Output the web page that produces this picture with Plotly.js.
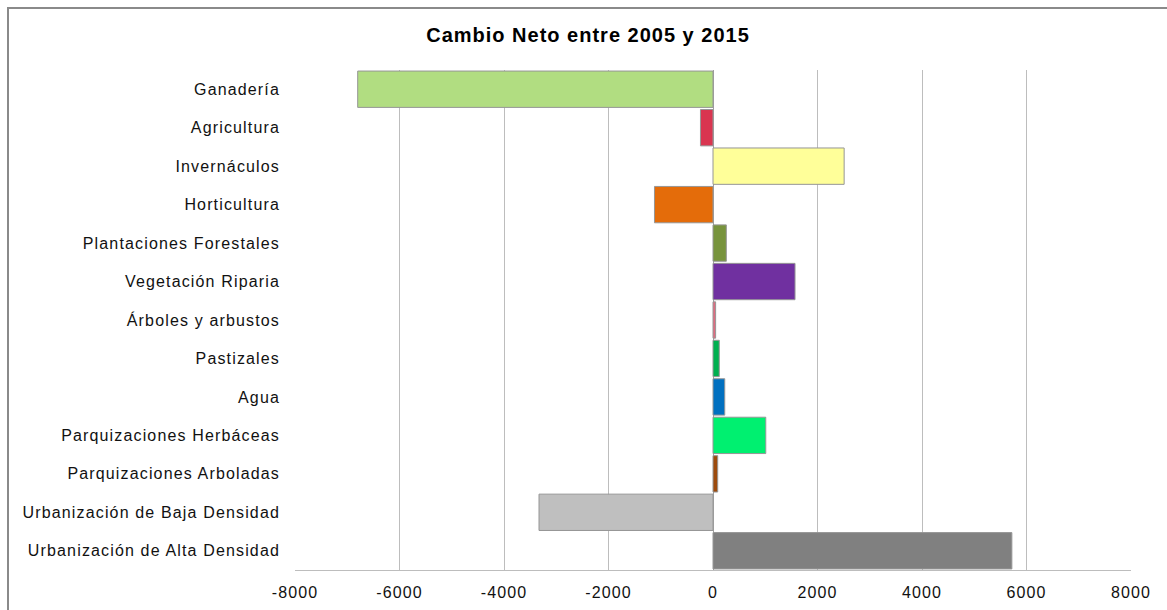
<!DOCTYPE html>
<html>
<head>
<meta charset="utf-8">
<script src="https://cdn.plot.ly/plotly-3.0.1.min.js"></script>
<style>
  html, body { margin: 0; padding: 0; background: #fff; overflow: hidden; }
  #frame { position: absolute; left: 7px; top: 7px; width: 1300px; height: 700px;
           border-left: 2px solid #8a8a8a; border-top: 2px solid #8a8a8a; }
  #chart { position: absolute; left: 0; top: 0; width: 1167px; height: 610px; }
  #chart .ytick text, #chart .xtick text { letter-spacing: 1.15px; }
  #chart .gtitle { letter-spacing: 1px; }
</style>
</head>
<body>
<div id="frame"></div>
<div id="chart"></div>
<script>
const categories = [
  "Ganadería",
  "Agricultura",
  "Invernáculos",
  "Horticultura",
  "Plantaciones Forestales",
  "Vegetación Riparia",
  "Árboles y arbustos",
  "Pastizales",
  "Agua",
  "Parquizaciones Herbáceas",
  "Parquizaciones Arboladas",
  "Urbanización de Baja Densidad",
  "Urbanización de Alta Densidad"
];
const values = [-6800, -240, 2510, -1120, 255, 1570, 50, 120, 225, 1010, 90, -3330, 5720];
const barColors = [
  "#b1dd81", "#d93550", "#ffff99", "#e46c0a", "#77933c", "#7030a0",
  "#e06c80", "#00b050", "#0070c0", "#00f070", "#9c4a0c", "#bfbfbf", "#808080"
];
const xTicks = [-8000, -6000, -4000, -2000, 0, 2000, 4000, 6000, 8000];
const chartTitle = "Cambio Neto entre 2005 y 2015";

const trace = {
  type: "bar",
  orientation: "h",
  y: categories,
  x: values,
  marker: { color: barColors, line: { color: "#969696", width: 1 } },
  hoverinfo: "x+y"
};

const layout = {
  width: 1167,
  height: 610,
  margin: { l: 295, r: 36, t: 70, b: 40 },
  paper_bgcolor: "rgba(0,0,0,0)",
  plot_bgcolor: "rgba(0,0,0,0)",
  showlegend: false,
  bargap: 0.055,
  title: {
    text: "<b>" + chartTitle + "</b>",
    x: 588 / 1167, xanchor: "center",
    y: 1 - 35 / 610, yanchor: "middle",
    font: { family: "Liberation Sans, Arial, sans-serif", size: 20, color: "#000" }
  },
  font: { family: "Liberation Sans, Arial, sans-serif", color: "#111" },
  xaxis: {
    range: [-8000, 8000],
    tickvals: xTicks,
    ticktext: xTicks.map(String),
    showgrid: true,
    gridcolor: "#bdbdbd",
    gridwidth: 1,
    zeroline: true,
    zerolinecolor: "#a0a0a0",
    zerolinewidth: 1,
    showline: true,
    linecolor: "#bdbdbd",
    linewidth: 1,
    ticks: "",
    ticklabelstandoff: 8,
    tickfont: { size: 16, color: "#111" },
    fixedrange: true
  },
  yaxis: {
    autorange: "reversed",
    type: "category",
    showgrid: false,
    zeroline: false,
    showline: false,
    ticks: "",
    ticklabelstandoff: 14,
    tickfont: { size: 16, color: "#111" },
    fixedrange: true
  }
};

Plotly.newPlot("chart", [trace], layout, { displayModeBar: false, staticPlot: true });
</script>
</body>
</html>
